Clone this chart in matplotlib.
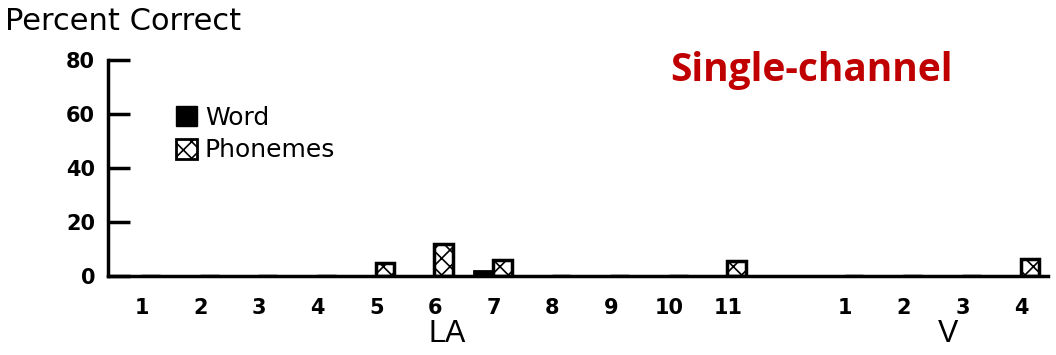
import numpy as np
import matplotlib.pyplot as plt
from matplotlib.patches import Patch

# Datos
etiquetas_la = ["1", "2", "3", "4", "5", "6", "7", "8", "9", "10", "11"]
etiquetas_v = ["1", "2", "3", "4"]
pos_la = [1, 2, 3, 4, 5, 6, 7, 8, 9, 10, 11]
pos_v = [13, 14, 15, 16]
word = [0, 0, 0, 0, 0, 0, 2, 0, 0, 0, 0, 0, 0, 0, 0]
phonemes = [0, 0, 0, 0, 5, 12, 6, 0, 0, 0, 5.5, 0, 0, 0, 6.5]
y_ticks = [0, 20, 40, 60, 80]

plt.rcParams['font.family'] = ['DejaVu Sans']
plt.rcParams['hatch.linewidth'] = 1.2

fig = plt.figure(figsize=(10.56, 3.55), dpi=100)
ax = fig.add_axes([0.102, 0.222, 0.89, 0.609])

x = np.array(pos_la + pos_v)
ancho = 0.32
ax.bar(x - 0.17, word, width=ancho, color="black", edgecolor="black", linewidth=2)
ax.bar(x + 0.15, phonemes, width=ancho, color="white", edgecolor="black",
       linewidth=2.5, hatch="xx")

ax.set_xlim(0.42, 16.45)
ax.set_ylim(0, 80)
ax.spines['top'].set_visible(False)
ax.spines['right'].set_visible(False)
ax.spines['left'].set_linewidth(2.5)
ax.spines['bottom'].set_linewidth(2.5)

ax.set_yticks(y_ticks)
ax.set_yticklabels([str(v) for v in y_ticks], fontsize=15, fontweight="bold")
ax.tick_params(axis="y", direction="in", length=16, width=2.5, pad=9)

ax.set_xticks(x)
ax.set_xticklabels(etiquetas_la + etiquetas_v, fontsize=15, fontweight="bold")
ax.tick_params(axis="x", length=0, pad=16)

fig.text(0.423, 0.06, "LA", fontsize=22, ha="center", va="center",
         family="Liberation Sans")
fig.text(0.898, 0.06, "V", fontsize=22, ha="center", va="center",
         family="Liberation Sans")
fig.text(0.005, 0.94, "Percent Correct", fontsize=22, ha="left", va="center")

fig.text(0.768, 0.80, "Single-channel", fontsize=28, fontweight="bold",
         color="#C00000", ha="center", va="center", family="Open Sans")

handles = [Patch(facecolor="black", edgecolor="black"),
           Patch(facecolor="white", edgecolor="black", hatch="xx", linewidth=2)]
ax.legend(handles, ["Word", "Phonemes"], loc="upper left",
          bbox_to_anchor=(0.062, 0.835), frameon=False, fontsize=18,
          handlelength=0.85, handleheight=0.85, handletextpad=0.3,
          labelspacing=0.35, borderaxespad=0)

fig.savefig("out.png", dpi=100)
